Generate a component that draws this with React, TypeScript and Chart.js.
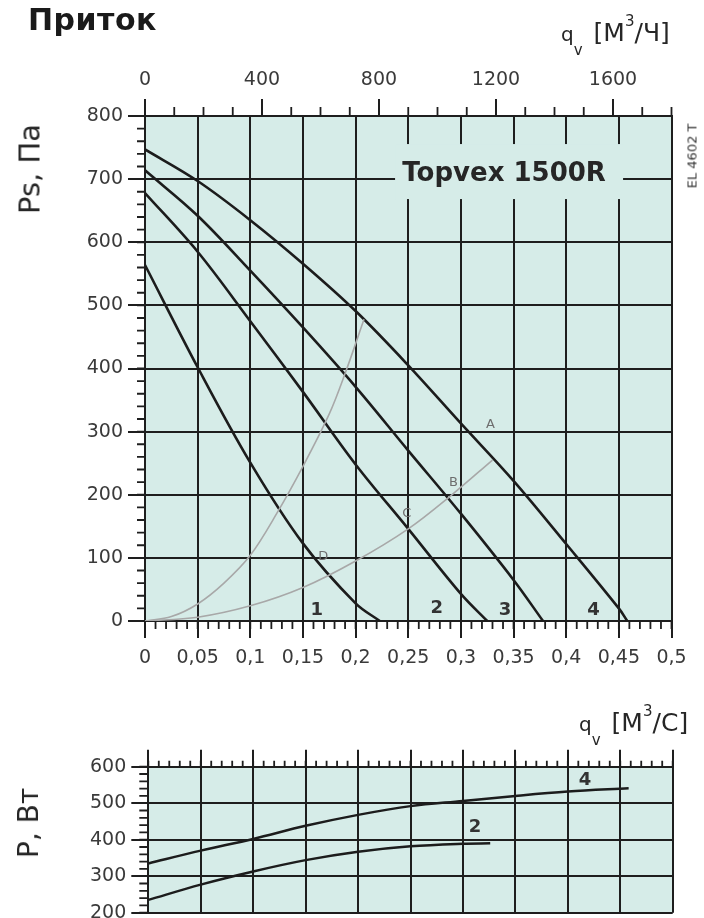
import React, { useEffect, useRef } from "react";
import { Chart, registerables } from "chart.js";

Chart.register(...registerables);

const FONT = "'DejaVu Sans', 'Liberation Sans', sans-serif";
const GRID = "#1e1e1e";
const TICK_TEXT = "#3a3a3a";
const DARK_TEXT = "#262626";
const PANEL = "#d6ece8";
const FAN_COLOR = "#1c1c1c";
const SYSTEM_COLOR = "#a8a8a8";

// ---------- axis ticks ----------
const FLOW_TICKS = [0, 0.05, 0.1, 0.15, 0.2, 0.25, 0.3, 0.35, 0.4, 0.45, 0.5];
const FLOW_H_TICKS = [0, 400, 800, 1200, 1600];
const PS_TICKS = [0, 100, 200, 300, 400, 500, 600, 700, 800];
const POWER_TICKS = [200, 300, 400, 500, 600];

function stepList(min: number, max: number, step: number): number[] {
  const out: number[] = [];
  const n = Math.round((max - min) / step);
  for (let i = 0; i <= n; i++) out.push(+(min + i * step).toFixed(6));
  return out;
}
const FLOW_MINOR = stepList(0, 0.5, 0.01);
const FLOW_H_MINOR = stepList(0, 1800, 100);
const PS_MINOR = stepList(0, 800, 20);
const POWER_MINOR = stepList(200, 600, 20);

// ---------- static pressure curves (qv m³/s -> Ps Pa) ----------
const FAN1_Q = [0, 0.05, 0.1, 0.15, 0.2, 0.223];
const FAN1_PS = [564, 402, 251, 123, 28, 0];
const FAN2_Q = [0, 0.05, 0.1, 0.15, 0.2, 0.25, 0.3, 0.325];
const FAN2_PS = [678, 585, 475, 363, 248, 146, 43, 0];
const FAN3_Q = [0, 0.05, 0.1, 0.15, 0.2, 0.25, 0.3, 0.35, 0.378];
const FAN3_PS = [714, 642, 555, 465, 371, 270, 170, 65, 0];
const FAN4_Q = [0, 0.05, 0.1, 0.15, 0.2, 0.25, 0.3, 0.35, 0.4, 0.45, 0.458];
const FAN4_PS = [747, 697, 635, 566, 491, 405, 313, 222, 122, 20, 0];

// system curves (grey)
const SYS_STEEP_Q = [0, 0.025, 0.05, 0.075, 0.1, 0.125, 0.15, 0.175, 0.19, 0.208];
const SYS_STEEP_PS = [0, 7, 27, 60, 104, 170, 245, 328, 392, 478];
const SYS_FLAT_Q = [0, 0.05, 0.1, 0.15, 0.2, 0.25, 0.29, 0.33];
const SYS_FLAT_PS = [0, 6, 24, 53, 95, 146, 198, 255];

// ---------- power curves (qv m³/s -> P W) ----------
const POWER2_Q = [0, 0.05, 0.1, 0.15, 0.2, 0.25, 0.3, 0.326];
const POWER2_W = [235, 277, 313, 344, 367, 382, 389, 390];
const POWER4_Q = [0, 0.05, 0.1, 0.15, 0.2, 0.25, 0.3, 0.35, 0.4, 0.458];
const POWER4_W = [335, 370, 402, 438, 468, 492, 506, 520, 532, 541];

// ---------- annotations ----------
const MODEL_NAME = "Topvex 1500R";
const MODEL_Q = 0.341;
const MODEL_PS = 712;
const CURVE_NUMBERS = ["1", "2", "3", "4"];
const CURVE_NUMBER_Q = [0.163, 0.277, 0.342, 0.426];
const CURVE_NUMBER_PS = [20, 23, 20, 20];
const POINT_LETTERS = ["A", "B", "C", "D"];
const POINT_LETTER_Q = [0.328, 0.293, 0.2485, 0.1693];
const POINT_LETTER_PS = [313, 221, 173, 104];
const POWER_NUMBERS = ["2", "4"];
const POWER_NUMBER_Q = [0.3115, 0.4164];
const POWER_NUMBER_W = [440, 568];

const pts = (qs: number[], vs: number[]) => qs.map((q, i) => ({ x: q, y: vs[i] }));

const curve = (qs: number[], vs: number[], color: string, width: number) => ({
  data: pts(qs, vs),
  borderColor: color,
  borderWidth: width,
  pointRadius: 0,
  fill: false,
  tension: 0.35,
  xAxisID: "x",
  yAxisID: "y",
});

const fmtFlow = (v: number) => (v === 0 ? "0" : String(+v.toFixed(2)).replace(".", ","));

function drawCentered(ctx: CanvasRenderingContext2D, text: string, cx: number, cy: number, size: number, weight: string, color: string) {
  ctx.font = `${weight} ${size}px ${FONT}`;
  ctx.fillStyle = color;
  ctx.textAlign = "center";
  ctx.textBaseline = "alphabetic";
  ctx.fillText(text, cx, cy + (size * 0.729) / 2);
}

type MinorSpec = { scale: string; side: "left" | "top" | "bottom"; values: number[]; len: number };

function makeDecor(id: string, minor: MinorSpec[], drawOver: (chart: any) => void, drawUnder?: (chart: any) => void) {
  return {
    id,
    beforeDraw(chart: any) {
      const { ctx, chartArea: a } = chart;
      ctx.save();
      ctx.fillStyle = PANEL;
      ctx.fillRect(a.left, a.top, a.right - a.left, a.bottom - a.top);
      ctx.restore();
    },
    beforeDatasetsDraw(chart: any) {
      if (drawUnder) {
        chart.ctx.save();
        drawUnder(chart);
        chart.ctx.restore();
      }
    },
    afterDatasetsDraw(chart: any) {
      chart.ctx.save();
      drawOver(chart);
      chart.ctx.restore();
    },
    afterDraw(chart: any) {
      const { ctx, chartArea: a } = chart;
      ctx.save();
      ctx.strokeStyle = GRID;
      ctx.lineWidth = 1.8;
      for (const spec of minor) {
        const s = chart.scales[spec.scale];
        ctx.beginPath();
        for (const v of spec.values) {
          const p = s.getPixelForValue(v);
          if (spec.side === "left") {
            ctx.moveTo(a.left, p);
            ctx.lineTo(a.left - spec.len, p);
          } else if (spec.side === "bottom") {
            ctx.moveTo(p, a.bottom);
            ctx.lineTo(p, a.bottom + spec.len);
          } else {
            ctx.moveTo(p, a.top);
            ctx.lineTo(p, a.top - spec.len);
          }
        }
        ctx.stroke();
      }
      ctx.restore();
    },
  };
}

const gridOpts = { color: GRID, lineWidth: 2, tickLength: 17, tickColor: GRID, tickWidth: 2 };
const tickFont = { family: FONT, size: 19 };

const MAIN_H = 680;
const POWER_H = 250;

function mainConfig(): any {
  const decor = makeDecor(
    "mainDecor",
    [
      { scale: "x", side: "bottom", values: FLOW_MINOR, len: 8 },
      { scale: "x2", side: "top", values: FLOW_H_MINOR, len: 9 },
      { scale: "y", side: "left", values: PS_MINOR, len: 8 },
    ],
    (chart) => {
      const { ctx, scales } = chart;
      CURVE_NUMBERS.forEach((t, i) =>
        drawCentered(ctx, t, scales.x.getPixelForValue(CURVE_NUMBER_Q[i]), scales.y.getPixelForValue(CURVE_NUMBER_PS[i]), 18, "bold", "#333"),
      );
      POINT_LETTERS.forEach((t, i) =>
        drawCentered(ctx, t, scales.x.getPixelForValue(POINT_LETTER_Q[i]), scales.y.getPixelForValue(POINT_LETTER_PS[i]), 13, "normal", "#6e6e6e"),
      );
    },
    (chart) => {
      const { ctx, scales } = chart;
      const cx = scales.x.getPixelForValue(MODEL_Q);
      const cy = scales.y.getPixelForValue(MODEL_PS);
      ctx.fillStyle = PANEL;
      ctx.fillRect(cx - 109, cy - 27.5, 228, 55);
      drawCentered(ctx, MODEL_NAME, cx, cy, 26, "bold", DARK_TEXT);
    },
  );
  return {
    type: "line",
    data: {
      datasets: [
        curve(SYS_STEEP_Q, SYS_STEEP_PS, SYSTEM_COLOR, 1.6),
        curve(SYS_FLAT_Q, SYS_FLAT_PS, SYSTEM_COLOR, 1.6),
        curve(FAN1_Q, FAN1_PS, FAN_COLOR, 2.6),
        curve(FAN2_Q, FAN2_PS, FAN_COLOR, 2.6),
        curve(FAN3_Q, FAN3_PS, FAN_COLOR, 2.6),
        curve(FAN4_Q, FAN4_PS, FAN_COLOR, 2.6),
      ],
    },
    options: {
      responsive: false,
      animation: false,
      events: [],
      layout: { padding: { left: 0, right: 32.5, top: 0, bottom: 0 } },
      plugins: { legend: { display: false }, tooltip: { enabled: false } },
      scales: {
        x: {
          type: "linear",
          position: "bottom",
          min: 0,
          max: 0.5,
          afterBuildTicks: (s: any) => {
            s.ticks = FLOW_TICKS.map((v) => ({ value: v }));
          },
          afterFit: (s: any) => {
            s.height = MAIN_H - 621;
          },
          ticks: { callback: (v: number) => fmtFlow(v), font: tickFont, color: TICK_TEXT, padding: 9, autoSkip: false, maxRotation: 0 },
          grid: gridOpts,
          border: { display: true, color: GRID, width: 2 },
        },
        x2: {
          type: "linear",
          axis: "x",
          position: "top",
          min: 0,
          max: 1800,
          afterBuildTicks: (s: any) => {
            s.ticks = FLOW_H_TICKS.map((v) => ({ value: v }));
          },
          afterFit: (s: any) => {
            s.height = 116;
          },
          ticks: { callback: (v: number) => String(v), font: tickFont, color: TICK_TEXT, padding: 8, autoSkip: false, maxRotation: 0 },
          grid: { ...gridOpts, drawOnChartArea: false },
          border: { display: true, color: GRID, width: 2 },
        },
        y: {
          type: "linear",
          position: "left",
          min: 0,
          max: 800,
          afterBuildTicks: (s: any) => {
            s.ticks = PS_TICKS.map((v) => ({ value: v }));
          },
          afterFit: (s: any) => {
            s.width = 145;
          },
          ticks: { callback: (v: number) => String(v), font: tickFont, color: TICK_TEXT, padding: 5, autoSkip: false },
          grid: gridOpts,
          border: { display: true, color: GRID, width: 2 },
        },
      },
    },
    plugins: [decor],
  };
}

function powerConfig(): any {
  const decor = makeDecor(
    "powerDecor",
    [
      { scale: "x", side: "top", values: FLOW_MINOR, len: 6 },
      { scale: "y", side: "left", values: POWER_MINOR, len: 9 },
    ],
    (chart) => {
      const { ctx, scales } = chart;
      POWER_NUMBERS.forEach((t, i) =>
        drawCentered(ctx, t, scales.x.getPixelForValue(POWER_NUMBER_Q[i]), scales.y.getPixelForValue(POWER_NUMBER_W[i]), 18, "bold", "#333"),
      );
    },
  );
  return {
    type: "line",
    data: {
      datasets: [curve(POWER2_Q, POWER2_W, FAN_COLOR, 2.5), curve(POWER4_Q, POWER4_W, FAN_COLOR, 2.5)],
    },
    options: {
      responsive: false,
      animation: false,
      events: [],
      layout: { padding: { left: 0, right: 31.3, top: 0, bottom: POWER_H - 222.7 } },
      plugins: { legend: { display: false }, tooltip: { enabled: false } },
      scales: {
        x: {
          type: "linear",
          position: "top",
          min: 0,
          max: 0.5,
          afterBuildTicks: (s: any) => {
            s.ticks = FLOW_TICKS.map((v) => ({ value: v }));
          },
          afterFit: (s: any) => {
            s.height = 76.7;
          },
          ticks: { display: false },
          grid: gridOpts,
          border: { display: true, color: GRID, width: 2 },
        },
        y: {
          type: "linear",
          position: "left",
          min: 200,
          max: 600,
          afterBuildTicks: (s: any) => {
            s.ticks = POWER_TICKS.map((v) => ({ value: v }));
          },
          afterFit: (s: any) => {
            s.width = 148.3;
          },
          ticks: { callback: (v: number) => String(v), font: tickFont, color: TICK_TEXT, padding: 5, autoSkip: false },
          grid: gridOpts,
          border: { display: true, color: GRID, width: 2 },
        },
      },
    },
    plugins: [decor],
  };
}

const abs = (extra: React.CSSProperties): React.CSSProperties => ({ position: "absolute", whiteSpace: "nowrap", ...extra });

function FlowUnit({ left, top, unit }: { left: number; top: number; unit: string }) {
  return (
    <div style={abs({ left, top, fontSize: 25, lineHeight: "25px", color: DARK_TEXT })}>
      <span style={{ fontSize: 20, lineHeight: 0 }}>q</span>
      <span style={{ fontSize: 15, lineHeight: 0, position: "relative", top: 13.5 }}>v</span>
      <span style={{ marginLeft: 11 }}>[М</span>
      <span style={{ fontSize: 15, lineHeight: 0, position: "relative", top: -15 }}>3</span>
      <span>/{unit}]</span>
    </div>
  );
}

export default function App() {
  const mainRef = useRef<HTMLCanvasElement>(null);
  const powerRef = useRef<HTMLCanvasElement>(null);

  useEffect(() => {
    const c1 = new Chart(mainRef.current as HTMLCanvasElement, mainConfig());
    const c2 = new Chart(powerRef.current as HTMLCanvasElement, powerConfig());
    return () => {
      c1.destroy();
      c2.destroy();
    };
  }, []);

  return (
    <div style={{ position: "absolute", left: 0, top: 0, width: 704, height: 918, overflow: "hidden", background: "#fff", fontFamily: FONT }}>
      <canvas ref={mainRef} width={704} height={MAIN_H} style={{ position: "absolute", left: 0, top: 0, width: 704, height: MAIN_H }} />
      <canvas ref={powerRef} width={704} height={POWER_H} style={{ position: "absolute", left: 0, top: 690, width: 704, height: POWER_H }} />

      <div style={abs({ left: 28, top: 4.8, fontSize: 30, lineHeight: "30px", fontWeight: "bold", letterSpacing: "0.5px", color: "#1a1a1a" })}>Приток</div>

      <FlowUnit left={561} top={20.3} unit="Ч" />
      <FlowUnit left={579} top={710.3} unit="С" />

      <div style={abs({ left: 30, top: 168.5, fontSize: 29, lineHeight: "29px", color: DARK_TEXT, transform: "translate(-50%, -50%) rotate(-90deg)" })}>Ps, Па</div>
      <div style={abs({ left: 29, top: 823, fontSize: 28, lineHeight: "28px", color: DARK_TEXT, transform: "translate(-50%, -50%) rotate(-90deg)" })}>P, Вт</div>
      <div style={abs({ left: 692, top: 156, fontSize: 13, lineHeight: "13px", color: "#333", transform: "translate(-50%, -50%) rotate(-90deg)" })}>EL 4602 T</div>
    </div>
  );
}
